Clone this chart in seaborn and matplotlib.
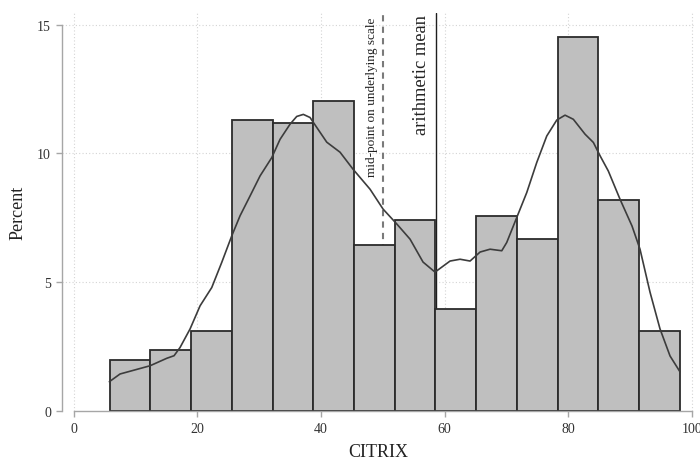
import numpy as np
import pandas as pd
import matplotlib
matplotlib.use("Agg")
import matplotlib.pyplot as plt
import seaborn as sns

# ---- data ----
bin_edges = [5.8, 12.39, 18.98, 25.57, 32.16, 38.75, 45.34, 51.93,
             58.52, 65.11, 71.70, 78.29, 84.88, 91.47, 98.06]
percent = [1.96, 2.34, 3.08, 11.28, 11.18, 12.03, 6.45,
           7.42, 3.94, 7.55, 6.67, 14.53, 8.19, 3.08]

curve_x = [5.76, 7.49, 12.35, 15.05, 16.23, 17.2, 18.82, 20.44, 22.33, 23.95,
           25.57, 26.91, 28.53, 30.15, 32.04, 33.38, 35.0, 36.08, 37.15, 38.23,
           40.94, 43.09, 45.19, 47.95, 50.05, 52.31, 54.42, 56.52, 58.46, 60.89,
           62.51, 64.13, 65.75, 67.36, 69.26, 70.06, 71.68, 73.3, 74.92, 76.54,
           78.16, 79.5, 80.84, 82.74, 84.08, 85.17, 86.5, 88.4, 90.34, 91.63,
           93.25, 94.87, 96.49, 98.11]
curve_y = [1.12, 1.42, 1.74, 2.03, 2.13, 2.45, 3.17, 4.07, 4.78, 5.76,
           6.79, 7.57, 8.34, 9.12, 9.83, 10.54, 11.13, 11.43, 11.51, 11.39,
           10.43, 10.04, 9.38, 8.60, 7.83, 7.24, 6.66, 5.77, 5.38, 5.81,
           5.88, 5.81, 6.16, 6.27, 6.21, 6.53, 7.50, 8.47, 9.64, 10.67,
           11.29, 11.48, 11.32, 10.74, 10.42, 9.90, 9.31, 8.21, 7.17, 6.27,
           4.60, 3.17, 2.12, 1.50]

midpoint = 50.0
mean_value = 58.6

x_ticks = [0, 20, 40, 60, 80, 100]
y_ticks = [0, 5, 10, 15]
x_label = "CITRIX"
y_label = "Percent"
mid_text = "mid-point on underlying scale"
mean_text = "arithmetic mean"

# ---- build ----
edges = list(bin_edges)
centers = [(a + b) / 2 for a, b in zip(edges[:-1], edges[1:])]
df = pd.DataFrame({"x": centers, "w": percent})
curve = pd.DataFrame({"x": curve_x, "y": curve_y})

sns.set_theme(style="white")
plt.rcParams["font.family"] = ["Liberation Serif", "DejaVu Serif"]

fig = plt.figure(figsize=(7, 4.6), dpi=100)
ax = fig.add_axes([0.0886, 0.1054, 0.904, 0.8641])

grid_col = "#d4d4d4"
for t in y_ticks[1:]:
    ax.axhline(t, color=grid_col, lw=0.8, ls=(0, (1, 2)), zorder=0)
for t in x_ticks:
    ax.axvline(t, color=grid_col, lw=0.8, ls=(0, (1, 2)), zorder=0)

ax.axvline(midpoint, color="#7a7a7a", lw=1.5, ls=(0, (3, 2.5)), zorder=1)
ax.axvline(mean_value, color="#1e1e1e", lw=1.0, zorder=1)

sns.histplot(data=df, x="x", weights="w", bins=edges, stat="count",
             color="#bfbfbf", alpha=1, edgecolor="#2b2b2b", linewidth=1.3,
             ax=ax, zorder=2)
sns.lineplot(data=curve, x="x", y="y", color="#3c3c3c", lw=1.2, ax=ax,
             zorder=3)

ax.text(48.3, 15.3, mid_text, rotation=90, ha="center", va="top",
        fontsize=9.5, color="#222222")
ax.text(56.3, 15.4, mean_text, rotation=90, ha="center", va="top",
        fontsize=13.3, color="#222222")

ax.set_xlim(-1.9, 100.5)
ax.set_ylim(0, 15.45)
ax.set_xticks(x_ticks)
ax.set_yticks(y_ticks)
ax.set_xticklabels([str(t) for t in x_ticks])
ax.set_yticklabels([str(t) for t in y_ticks])

spine_col = "#a6a6a6"
for s in ["top", "right"]:
    ax.spines[s].set_visible(False)
ax.spines["left"].set_bounds(0, 15)
ax.spines["bottom"].set_bounds(0, 100)
for s in ["left", "bottom"]:
    ax.spines[s].set_color(spine_col)
    ax.spines[s].set_linewidth(1.0)
ax.tick_params(axis="both", direction="out", length=4, width=1.0,
               color=spine_col, labelsize=10, labelcolor="#333333", pad=4,
               bottom=True, left=True)

ax.set_xlabel(x_label, fontsize=13, color="#222222", labelpad=6)
ax.set_ylabel(y_label, fontsize=13, color="#222222", labelpad=7.5)

fig.savefig("out.png", dpi=100)
